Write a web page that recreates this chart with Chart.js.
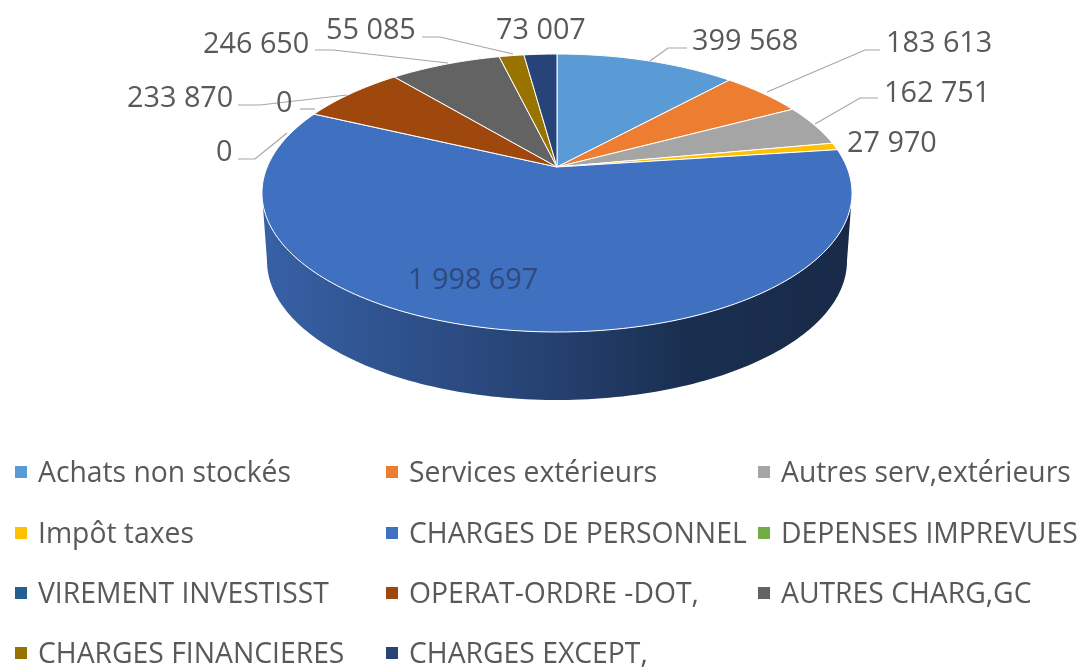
<!DOCTYPE html>
<html><head><meta charset="utf-8">
<style>html,body{margin:0;padding:0;background:#fff}#w{width:1084px;height:667px}</style>
<script src="https://cdn.jsdelivr.net/npm/chart.js@4/dist/chart.umd.js"></script>
</head><body><div id="w"><canvas id="c" width="1084" height="667"></canvas></div>
<script>
const categories=["Achats non stockés","Services extérieurs","Autres serv,extérieurs","Impôt taxes","CHARGES DE PERSONNEL","DEPENSES IMPREVUES","VIREMENT INVESTISST","OPERAT-ORDRE -DOT,","AUTRES CHARG,GC","CHARGES FINANCIERES","CHARGES EXCEPT,"];
const values=[399568,183613,162751,27970,1998697,0,0,233870,246650,55085,73007];
const valueLabels=["399 568","183 613","162 751","27 970","1 998 697","0","0","233 870","246 650","55 085","73 007"];
const colors=["#5B9BD5","#ED7D31","#A5A5A5","#FFC000","#4070C0","#70AD47","#255E91","#9E480E","#636363","#997300","#264478"];

const FONT='"Open Sans", sans-serif', TXT='#595959';
const P={cx:557,apexY:167,a:102.9,k:-0.187,c:289.8,depth:68,shrink:0.983};
function project(ang){const X=Math.cos(ang),Y=Math.sin(ang),d=1+P.k*Y;return [P.cx+P.c*X/d,(P.a*Y+P.apexY)/d];}
function lower(p){return [P.cx+(p[0]-P.cx)*P.shrink,p[1]+P.depth];}
function shade(hex,f){const n=parseInt(hex.slice(1),16);return `rgb(${(n>>16&255)*f|0},${(n>>8&255)*f|0},${(n&255)*f|0})`;}
function samples(s,e){const o=[],n=Math.max(2,Math.ceil((e-s)/0.02));for(let i=0;i<=n;i++)o.push(s+(e-s)*i/n);return o;}

// top face of each slice, drawn by the library's arc element
Chart.ArcElement.prototype.draw=function(ctx){
  const s=this.startAngle,e=this.endAngle;
  if(e-s<=0)return;
  ctx.save();ctx.beginPath();ctx.moveTo(P.cx,P.apexY);
  samples(s,e).forEach(a=>{const p=project(a);ctx.lineTo(p[0],p[1]);});
  ctx.closePath();ctx.fillStyle=this.options.backgroundColor;ctx.fill();
  ctx.strokeStyle=this.options.borderColor;ctx.lineWidth=this.options.borderWidth;ctx.lineJoin='round';ctx.stroke();
  ctx.restore();
};

const wall={id:'wall',beforeDatasetsDraw(chart){
  const ctx=chart.ctx;
  chart.getDatasetMeta(0).data.forEach((arc,i)=>{
    const frontStart=Math.asin(-P.k), frontEnd=Math.PI-frontStart;
    const s=Math.max(arc.startAngle,frontStart),e=Math.min(arc.endAngle,frontEnd);
    if(e<=s)return;
    const top=samples(s,e).map(project),bot=top.map(lower);
    ctx.save();ctx.beginPath();
    top.forEach((p,j)=>j?ctx.lineTo(p[0],p[1]):ctx.moveTo(p[0],p[1]));
    bot.reverse().forEach(p=>ctx.lineTo(p[0],p[1]));ctx.closePath();
    const g=ctx.createLinearGradient(P.cx-P.c,0,P.cx+P.c,0);
    const base=colors[i];
    g.addColorStop(0,shade(base,0.86));g.addColorStop(0.25,shade(base,0.72));g.addColorStop(0.5,shade(base,0.58));g.addColorStop(0.72,shade(base,0.42));g.addColorStop(1,shade(base,0.38));
    ctx.fillStyle=g;ctx.fill();ctx.restore();
  });
}};

const labelSpots=[
 {x:692,y:42,line:[[687,48],[668,48],[650,61]]},
 {x:886,y:44,line:[[880,50],[865,50],[767,92]]},
 {x:884,y:94,line:[[878,98],[860,98],[815,124]]},
 {x:847,y:144,line:null},
 {x:408,y:281,line:null,color:'#2E4A7D'},
 {x:216,y:153,line:[[238,159],[255,159],[287,133]]},
 {x:276,y:104,line:[[300,109],[315,109]]},
 {x:127,y:99,line:[[238,105],[260,105],[347,95]]},
 {x:203,y:45,line:[[315,50],[333,50],[448,63]]},
 {x:326,y:31,line:[[422,37],[440,37],[513,54]]},
 {x:496,y:31,line:null}
];
const legendCols=[15,386,758],legendRows=[472,533,593,653];

const annotate={id:'annotate',afterDatasetsDraw(chart){
  const ctx=chart.ctx;ctx.save();
  ctx.strokeStyle='#A6A6A6';ctx.lineWidth=1.2;
  labelSpots.forEach(l=>{if(!l.line)return;ctx.beginPath();l.line.forEach((p,j)=>j?ctx.lineTo(p[0],p[1]):ctx.moveTo(p[0],p[1]));ctx.stroke();});
  ctx.textBaseline='middle';ctx.textAlign='left';
  ctx.font='28.8px '+FONT;
  labelSpots.forEach((l,i)=>{ctx.fillStyle=l.color||TXT;ctx.fillText(valueLabels[i],l.x,l.y);});
  ctx.font='28.3px '+FONT;
  categories.forEach((c,i)=>{
    const col=legendCols[i%3],row=legendRows[Math.floor(i/3)];
    ctx.fillStyle=colors[i];ctx.fillRect(col,row-6,12,12);
    ctx.fillStyle=TXT;ctx.fillText(c,col+23,row+2);
  });
  ctx.restore();
}};

new Chart(document.getElementById('c'),{
  type:'pie',
  data:{labels:categories,datasets:[{data:values,backgroundColor:colors,borderColor:'#ffffff',borderWidth:1}]},
  options:{responsive:false,animation:false,plugins:{legend:{display:false},tooltip:{enabled:false}}},
  plugins:[wall,annotate]
});
</script></body></html>
